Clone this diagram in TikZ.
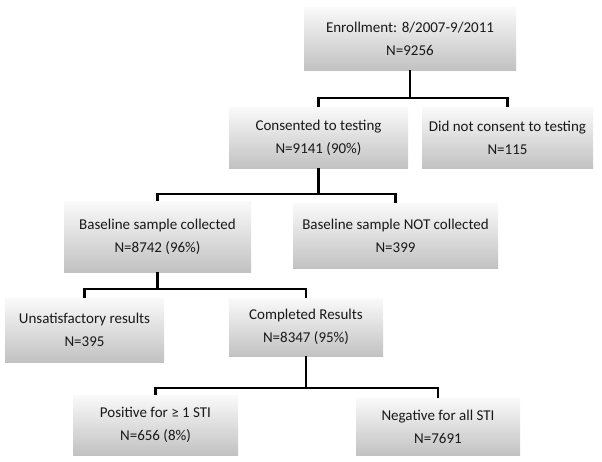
\documentclass[tikz,border=0pt]{standalone}
\usepackage{fontspec}
\setmainfont{Carlito}
\begin{document}
\begin{tikzpicture}[x=1pt,y=-1pt,
  box/.style={rectangle, inner sep=0pt, align=center, text=black!90,
    top color=black!2, bottom color=black!24, draw=none,
    font=\fontsize{15}{23}\selectfont},
  conn/.style={line width=2.6pt, black}]
\useasboundingbox (0,0) rectangle (602,461);
\node[box, minimum width=212pt, minimum height=63pt] (b1) at (410,38.5) {Enrollment: 8/2007-9/2011\\N=9256};
\node[box, minimum width=179pt, minimum height=61pt] (b2) at (318.5,137.5) {Consented to testing\\N=9141 (90\%)};
\node[box, minimum width=171pt, minimum height=61pt] (b3) at (507.5,137.5) {Did not consent to testing\\N=115};
\node[box, minimum width=187pt, minimum height=71pt] (b4) at (157.5,236.5) {Baseline sample collected\\N=8742 (96\%)};
\node[box, minimum width=205pt, minimum height=65pt] (b5) at (395.5,235.5) {Baseline sample NOT collected\\N=399};
\node[box, minimum width=159pt, minimum height=64pt] (b6) at (84.5,330) {Unsatisfactory results\\N=395};
\node[box, minimum width=154pt, minimum height=58pt] (b7) at (306,327) {Completed Results\\N=8347 (95\%)};
\node[box, minimum width=165pt, minimum height=60pt] (b8) at (155.5,425) {Positive for ≥ 1 STI\\N=656 (8\%)};
\node[box, minimum width=164pt, minimum height=57pt] (b9) at (438,426.5) {Negative for all STI\\N=7691};
\coordinate (j1) at (410,98);
\coordinate (j2) at (318.5,194);
\coordinate (j3) at (157.5,289);
\coordinate (j4) at (306,388);
\draw[conn] (b1.south) -- (j1);
\draw[conn] (b2.north) |- (j1) -| (b3.north);
\draw[conn] (b2.south) -- (j2);
\draw[conn] (b4.north) |- (j2) -| (b5.north);
\draw[conn] (b4.south) -- (j3);
\draw[conn] (b6.north) |- (j3) -| (b7.north);
\draw[conn] (b7.south) -- (j4);
\draw[conn] (b8.north) |- (j4) -| (b9.north);
\end{tikzpicture}
\end{document}
